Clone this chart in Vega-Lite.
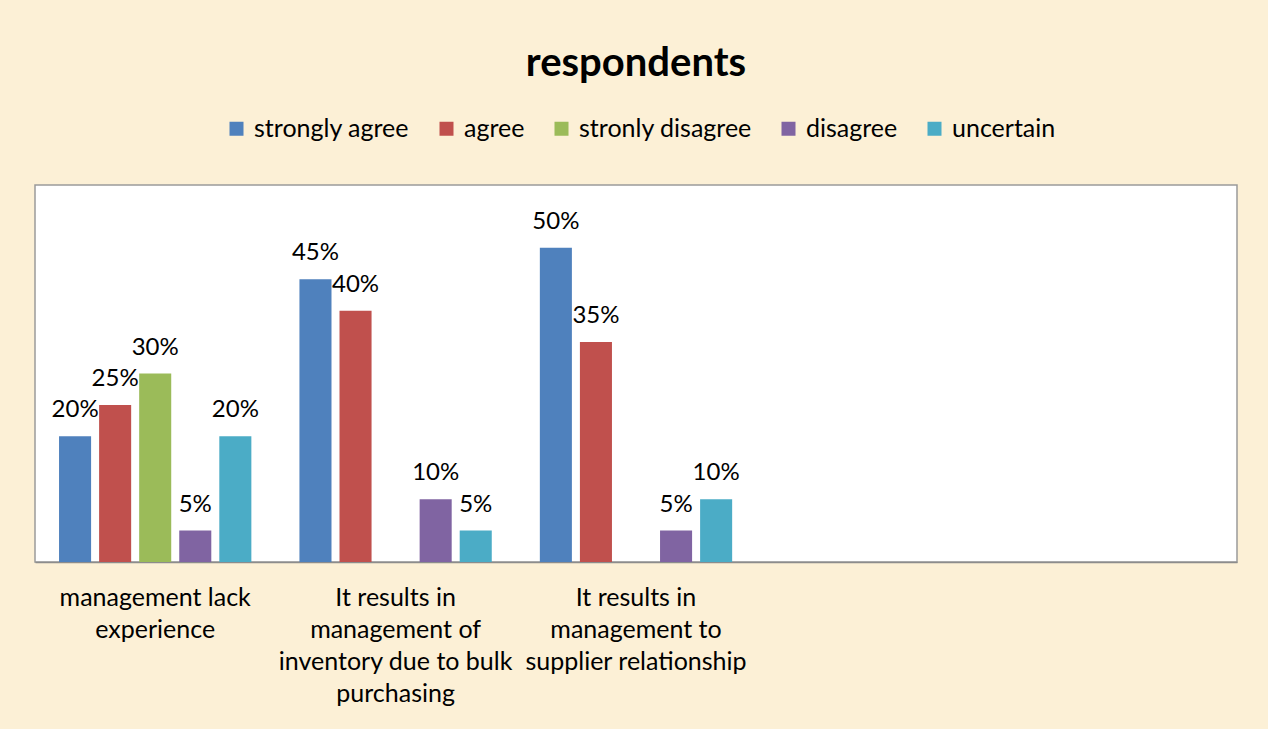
{
  "$schema": "https://vega.github.io/schema/vega-lite/v6.json",
  "width": 1202,
  "height": 377,
  "autosize": {"type": "none"},
  "padding": {"left": 35, "top": 185, "right": 31, "bottom": 167},
  "background": "#fcf0d6",
  "title": {
    "text": "respondents",
    "fontSize": 40,
    "font": "Lato",
    "fontWeight": "bold",
    "color": "#000000",
    "anchor": "middle",
    "baseline": "alphabetic",
    "offset": 0
  },
  "config": {
    "view": {"fill": "#ffffff", "stroke": "#9a9a9a", "strokeWidth": 1.5},
    "font": "Lato"
  },
  "data": {
    "values": [
      {"category": "management lack experience", "response": "strongly agree", "value": 0.20},
      {"category": "management lack experience", "response": "agree", "value": 0.25},
      {"category": "management lack experience", "response": "stronly disagree", "value": 0.30},
      {"category": "management lack experience", "response": "disagree", "value": 0.05},
      {"category": "management lack experience", "response": "uncertain", "value": 0.20},
      {"category": "It results in management of inventory  due to bulk purchasing", "response": "strongly agree", "value": 0.45},
      {"category": "It results in management of inventory  due to bulk purchasing", "response": "agree", "value": 0.40},
      {"category": "It results in management of inventory  due to bulk purchasing", "response": "disagree", "value": 0.10},
      {"category": "It results in management of inventory  due to bulk purchasing", "response": "uncertain", "value": 0.05},
      {"category": "It results in management to supplier relationship", "response": "strongly agree", "value": 0.50},
      {"category": "It results in management to supplier relationship", "response": "agree", "value": 0.35},
      {"category": "It results in management to supplier relationship", "response": "disagree", "value": 0.05},
      {"category": "It results in management to supplier relationship", "response": "uncertain", "value": 0.10}
    ]
  },
  "encoding": {
    "x": {
      "field": "category",
      "type": "nominal",
      "sort": null,
      "scale": {
        "domain": ["management lack experience", "It results in management of inventory  due to bulk purchasing", "It results in management to supplier relationship", " ", "  "],
        "paddingInner": 0,
        "paddingOuter": 0
      },
      "axis": {
        "title": null,
        "labelAngle": 0,
        "ticks": false,
        "domainColor": "#8c8c8c",
        "domainWidth": 1.5,
        "labelFontSize": 25,
        "labelFont": "Lato",
        "labelColor": "#000000",
        "labelPadding": 35,
        "labelLineHeight": 32,
        "labelBaseline": "middle",
        "labelLimit": 0,
        "labelExpr": "datum.label == 'management lack experience' ? ['management lack', 'experience'] : datum.label == 'It results in management of inventory  due to bulk purchasing' ? ['It results in', 'management of', 'inventory  due to bulk', 'purchasing'] : datum.label == 'It results in management to supplier relationship' ? ['It results in', 'management to', 'supplier relationship'] : ''"
      }
    },
    "xOffset": {
      "field": "response",
      "type": "nominal",
      "scale": {
        "domain": ["strongly agree", "agree", "stronly disagree", "disagree", "uncertain"],
        "paddingInner": 0.2,
        "paddingOuter": 0.6
      }
    },
    "y": {
      "field": "value",
      "type": "quantitative",
      "scale": {"domain": [0, 0.6], "nice": false},
      "axis": null
    },
    "color": {
      "field": "response",
      "type": "nominal",
      "scale": {
        "domain": ["strongly agree", "agree", "stronly disagree", "disagree", "uncertain"],
        "range": ["#4f81bd", "#c0504d", "#9bbb59", "#8064a2", "#4bacc6"]
      },
      "legend": {
        "title": null,
        "orient": "none",
        "direction": "horizontal",
        "legendX": 189,
        "legendY": -69,
        "symbolType": "square",
        "symbolSize": 196,
        "symbolStrokeWidth": 0,
        "symbolOpacity": 1,
        "labelFontSize": 25,
        "labelFont": "Lato",
        "labelColor": "#000000",
        "labelOffset": 5,
        "labelLimit": 400,
        "columnPadding": 24
      }
    }
  },
  "layer": [
    {"mark": {"type": "bar"}},
    {
      "mark": {"type": "text", "baseline": "bottom", "dy": -14, "fontSize": 24, "font": "Lato"},
      "encoding": {
        "text": {"field": "value", "type": "quantitative", "format": ".0%"},
        "color": {"value": "#000000"}
      }
    }
  ]
}
